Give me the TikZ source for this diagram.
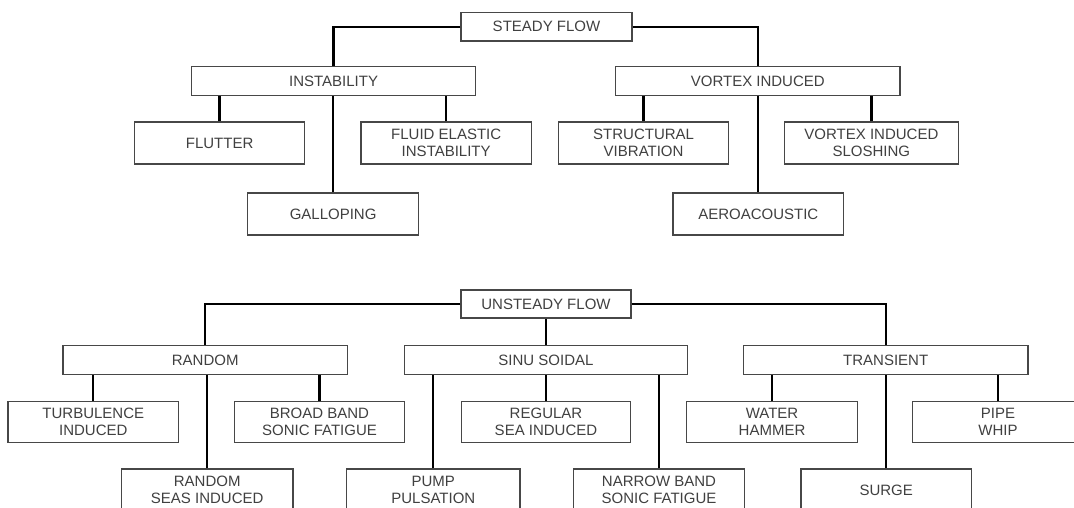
\documentclass[tikz,border=0pt]{standalone}
\usepackage{fontspec}
\setmainfont{Liberation Sans}
\begin{document}
\begin{tikzpicture}[x=1pt,y=-1pt,
  box/.style={draw=black!72, line width=1.2pt, inner sep=0pt, align=center,
    font=\fontsize{15}{17}\selectfont, text=black!75},
  bar/.style={box, minimum width=284.5pt, minimum height=28.5pt},
  head/.style={box, minimum width=171pt, minimum height=28.5pt},
  leaf/.style={box, minimum width=170.5pt, minimum height=42pt},
  conn/.style={draw=black, line width=2.3pt}]
\fill[white, use as bounding box] (0,0) rectangle (1074,508);

% ---- steady flow ----
\node[head] (steady) at (546.5,26.7) {STEADY FLOW};
\node[bar] (instab) at (333.6,81) {INSTABILITY};
\node[bar] (vortex) at (757.8,81) {VORTEX INDUCED};
\node[leaf] (flutter) at (219.6,143) {FLUTTER};
\node[leaf] (fluid) at (446.2,143) {FLUID ELASTIC\\INSTABILITY};
\node[leaf] (gallop) at (333.1,214) {GALLOPING};
\node[leaf] (struct) at (643.6,143) {STRUCTURAL\\VIBRATION};
\node[leaf, minimum width=173.4pt] (slosh) at (871.4,143) {VORTEX INDUCED\\SLOSHING};
\node[leaf] (aero) at (758.3,214) {AEROACOUSTIC};

\draw[conn] (steady.west) -| (instab.north);
\draw[conn] (steady.east) -| (vortex.north);
\draw[conn] (flutter.north) -- (flutter.north |- instab.south);
\draw[conn] (fluid.north) -- (fluid.north |- instab.south);
\draw[conn] (gallop.north) -- (gallop.north |- instab.south);
\draw[conn] (struct.north) -- (struct.north |- vortex.south);
\draw[conn] (slosh.north) -- (slosh.north |- vortex.south);
\draw[conn] (aero.north) -- (aero.north |- vortex.south);

% ---- unsteady flow ----
\node[head, minimum width=170pt, minimum height=28pt] (unsteady) at (546,304) {UNSTEADY FLOW};
\node[bar] (random) at (205.2,360) {RANDOM};
\node[bar, minimum width=283pt] (sinus) at (546,360) {SINU SOIDAL};
\node[bar] (trans) at (885.7,360) {TRANSIENT};
\node[leaf, minimum height=40.6pt] (turb) at (93.3,422) {TURBULENCE\\INDUCED};
\node[leaf, minimum height=40.6pt] (broad) at (319.5,422) {BROAD BAND\\SONIC FATIGUE};
\node[leaf, minimum height=40.6pt, minimum width=169.2pt] (regular) at (546,422) {REGULAR\\SEA INDUCED};
\node[leaf, minimum height=40.6pt] (water) at (772,422) {WATER\\HAMMER};
\node[leaf, minimum height=40.6pt] (pipe) at (998,422) {PIPE\\WHIP};
\node[leaf, minimum width=171.7pt] (rseas) at (207.2,490) {RANDOM\\SEAS INDUCED};
\node[leaf, minimum width=173.4pt] (pump) at (433.3,490) {PUMP\\PULSATION};
\node[leaf] (narrow) at (659,490) {NARROW BAND\\SONIC FATIGUE};
\node[leaf] (surge) at (886.2,490) {SURGE};

\draw[conn] (unsteady.west) -| (random.north);
\draw[conn] (unsteady.east) -| (trans.north);
\draw[conn] (unsteady.south) -- (sinus.north);
\draw[conn] (turb.north) -- (turb.north |- random.south);
\draw[conn] (broad.north) -- (broad.north |- random.south);
\draw[conn] (rseas.north) -- (rseas.north |- random.south);
\draw[conn] (pump.north) -- (pump.north |- sinus.south);
\draw[conn] (regular.north) -- (regular.north |- sinus.south);
\draw[conn] (narrow.north) -- (narrow.north |- sinus.south);
\draw[conn] (water.north) -- (water.north |- trans.south);
\draw[conn] (surge.north) -- (surge.north |- trans.south);
\draw[conn] (pipe.north) -- (pipe.north |- trans.south);
\end{tikzpicture}
\end{document}
